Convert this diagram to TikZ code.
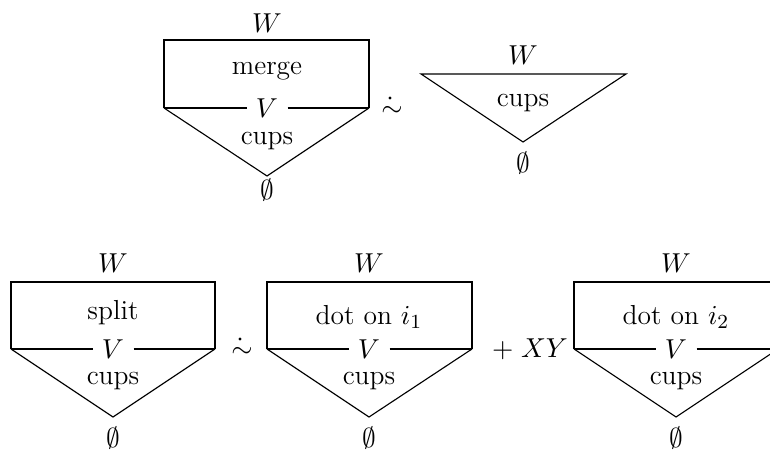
\documentclass[tikz,border=0pt]{standalone}
\usepackage{amsmath}
\begin{document}
\begin{tikzpicture}[x=0.4pt,y=-0.4pt,
  edge/.style={line width=0.45pt},
  lbl/.style={inner sep=0pt, font=\fontsize{11}{13}\selectfont},
  vlbl/.style={inner sep=0pt, minimum width=16pt, font=\fontsize{11}{13}\selectfont},
  dotmark/.style={circle, fill=black, inner sep=0pt, minimum size=1.3pt}]
\useasboundingbox (0,0) rectangle (770,450);

% ---------- top left: merge ----------
\coordinate (m-tl) at (164,40);
\coordinate (m-tr) at (369,40);
\coordinate (m-bl) at (164,108);
\coordinate (m-br) at (369,108);
\coordinate (m-tip) at (267,176);
\node[vlbl] (m-v) at (267,108) {$V$};
\draw[edge] (m-bl) -- (m-tl) -- (m-tr) -- (m-br);
\draw[edge] (m-bl) -- (m-v.west);
\draw[edge] (m-v.east) -- (m-br);
\draw[edge] (m-bl) -- (m-tip) -- (m-br);
\node[lbl] (m-w) at (267,23) {$W$};
\node[lbl] (m-t) at (267,71) {merge};
\node[lbl] (m-c) at (267,141) {cups};
\node[lbl] (m-e) at (267,190) {$\emptyset$};

\node[lbl] (eq1) at (392,111) {$\sim$};
\node[dotmark] (eq1d) at (390,98) {};

% ---------- top right: cups triangle ----------
\coordinate (c-l) at (421,74);
\coordinate (c-r) at (626,74);
\coordinate (c-tip) at (523,142);
\draw[edge] (c-l) -- (c-r) -- (c-tip) -- cycle;
\node[lbl] (c-w) at (523,55) {$W$};
\node[lbl] (c-c) at (523,103) {cups};
\node[lbl] (c-e) at (523,163) {$\emptyset$};

% ---------- bottom: split ----------
\coordinate (s-tl) at (11,282);
\coordinate (s-tr) at (215,282);
\coordinate (s-bl) at (11,349);
\coordinate (s-br) at (215,349);
\coordinate (s-tip) at (113,417);
\node[vlbl] (s-v) at (113,349) {$V$};
\draw[edge] (s-bl) -- (s-tl) -- (s-tr) -- (s-br);
\draw[edge] (s-bl) -- (s-v.west);
\draw[edge] (s-v.east) -- (s-br);
\draw[edge] (s-bl) -- (s-tip) -- (s-br);
\node[lbl] (s-w) at (113,263) {$W$};
\node[lbl] (s-t) at (113,313) {split};
\node[lbl] (s-c) at (113,381) {cups};
\node[lbl] (s-e) at (113,438) {$\emptyset$};

\node[lbl] (eq2) at (242,352) {$\sim$};
\node[dotmark] (eq2d) at (240,339) {};

% ---------- bottom: dot on i1 ----------
\coordinate (a-tl) at (267,282);
\coordinate (a-tr) at (472,282);
\coordinate (a-bl) at (267,349);
\coordinate (a-br) at (472,349);
\coordinate (a-tip) at (369,417);
\node[vlbl] (a-v) at (369,349) {$V$};
\draw[edge] (a-bl) -- (a-tl) -- (a-tr) -- (a-br);
\draw[edge] (a-bl) -- (a-v.west);
\draw[edge] (a-v.east) -- (a-br);
\draw[edge] (a-bl) -- (a-tip) -- (a-br);
\node[lbl] (a-w) at (369,263) {$W$};
\node[lbl] (a-t) at (369,317) {dot on $i_1$};
\node[lbl] (a-c) at (369,381) {cups};
\node[lbl] (a-e) at (369,438) {$\emptyset$};

\node[lbl] (plus) at (530,349) {$+\;XY$};

% ---------- bottom: dot on i2 ----------
\coordinate (b-tl) at (574,282);
\coordinate (b-tr) at (778,282);
\coordinate (b-bl) at (574,349);
\coordinate (b-br) at (778,349);
\coordinate (b-tip) at (676,417);
\node[vlbl] (b-v) at (676,349) {$V$};
\draw[edge] (b-bl) -- (b-tl) -- (b-tr) -- (b-br);
\draw[edge] (b-bl) -- (b-v.west);
\draw[edge] (b-v.east) -- (b-br);
\draw[edge] (b-bl) -- (b-tip) -- (b-br);
\node[lbl] (b-w) at (676,263) {$W$};
\node[lbl] (b-t) at (676,317) {dot on $i_2$};
\node[lbl] (b-c) at (676,381) {cups};
\node[lbl] (b-e) at (676,438) {$\emptyset$};
\end{tikzpicture}
\end{document}
